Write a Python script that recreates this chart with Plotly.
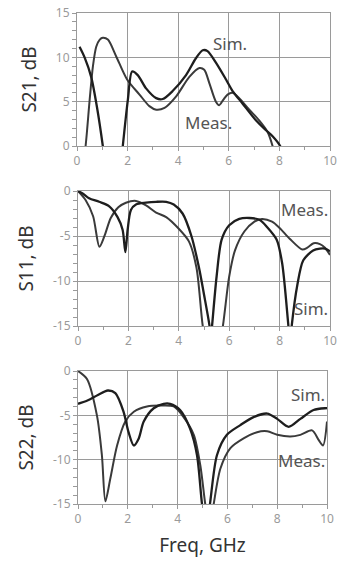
import plotly.graph_objects as go

# ---------------- data ----------------
freq_ticks = [0, 2, 4, 6, 8, 10]
freq_ticktext = ["0", "2", "4", "6", "8", "10"]
s21_ticks = [0, 5, 10, 15]
s21_ticktext = ["0", "5", "10", "15"]
sxx_ticks = [-15, -10, -5, 0]
sxx_ticktext = ["-15", "-10", "-5", "0"]

s21_sim_f = [0.1, 0.3, 0.56, 0.8, 1.02, 1.15, 1.45, 1.7, 1.81, 2.01, 2.18, 2.4, 2.73, 3.13, 3.39, 3.78,
             4.31, 4.7, 4.97, 5.16, 5.49, 5.89, 6.15, 6.54, 7.07, 7.46, 7.73, 8.03, 8.2]
s21_sim_db = [11.2, 10.0, 7.8, 4.2, 0.0, -3.0, -8.0, -3.0, 0.0, 5.2, 8.4, 8.0, 6.5, 5.4, 5.3, 6.2,
              8.0, 9.9, 10.8, 10.7, 9.4, 7.5, 6.2, 4.8, 2.9, 1.8, 1.1, 0.0, -1.5]

s21_meas_f = [0.15, 0.34, 0.5, 0.63, 0.76, 0.9, 1.02, 1.22, 1.55, 1.98, 2.47, 2.86, 3.13, 3.46, 3.92,
              4.44, 4.84, 5.03, 5.23, 5.49, 5.62, 5.78, 5.95, 6.15, 6.41, 6.81, 7.2, 7.53, 7.73, 7.9]
s21_meas_db = [-4.0, 0.0, 5.2, 9.0, 11.2, 12.0, 12.2, 12.0, 10.1, 7.5, 5.8, 4.5, 4.1, 4.3, 5.6,
               7.8, 8.8, 8.6, 7.1, 5.0, 4.6, 5.2, 5.8, 6.0, 5.4, 4.1, 2.9, 1.6, 0.0, -2.0]

s11_sim_f = [0.0, 0.2, 0.44, 0.84, 1.24, 1.57, 1.77, 1.88, 1.97, 2.1, 2.3, 2.7, 3.1, 3.5, 3.8, 4.15,
             4.5, 4.8, 5.0, 5.22, 5.27, 5.32, 5.5, 5.7, 6.0, 6.4, 6.8, 7.2, 7.5, 7.88, 8.1, 8.35,
             8.42, 8.48, 8.7, 8.94, 9.33, 9.6, 9.8, 10.0]
s11_sim_db = [0.0, -0.3, -0.8, -1.2, -1.7, -2.9, -4.3, -6.8, -4.3, -2.1, -1.5, -1.3, -1.2, -1.2, -1.5, -2.5,
              -5.0, -8.5, -11.5, -15.0, -16.5, -15.0, -9.5, -5.4, -3.8, -3.1, -3.0, -3.2, -4.0, -5.4, -8.0, -15.0,
              -17.0, -15.0, -10.5, -7.7, -6.6, -6.4, -6.4, -6.7]

s11_meas_f = [0.0, 0.3, 0.6, 0.85, 1.05, 1.3, 1.6, 1.9, 2.3, 2.7, 3.1, 3.5, 4.0, 4.4, 4.7, 4.95,
              5.35, 5.75, 6.0, 6.23, 6.6, 7.0, 7.3, 7.7, 8.0, 8.4, 8.9, 9.1, 9.35, 9.6, 9.8, 10.0]
s11_meas_db = [0.0, -1.0, -2.8, -6.2, -5.0, -3.0, -1.8, -1.3, -1.1, -1.6, -2.4, -2.9, -4.2, -5.6, -8.5, -15.0,
               -22.0, -15.0, -9.5, -6.6, -4.5, -3.4, -3.1, -3.4, -4.1, -5.3, -6.5, -6.3, -5.8, -5.9, -6.3, -7.1]

s22_sim_f = [0.0, 0.4, 0.8, 1.2, 1.5, 1.83, 2.03, 2.24, 2.44, 2.64, 3.04, 3.44, 3.7, 4.1, 4.5, 4.78,
             4.98, 5.14, 5.3, 5.58, 5.98, 6.52, 7.05, 7.6, 8.0, 8.46, 8.93, 9.46, 9.93, 10.0]
s22_sim_db = [-3.7, -3.3, -2.7, -2.2, -2.5, -4.6, -6.9, -8.4, -7.6, -5.7, -4.2, -3.7, -3.7, -4.4, -6.5, -9.5,
              -15.0, -18.0, -15.0, -9.5, -7.2, -6.1, -5.2, -4.8, -5.4, -6.3, -5.4, -4.4, -4.2, -4.2]

s22_meas_f = [0.0, 0.36, 0.76, 0.96, 1.1, 1.3, 1.57, 1.9, 2.24, 2.77, 3.3, 3.84, 4.24, 4.65, 4.91,
              5.11, 5.28, 5.45, 5.72, 6.12, 6.65, 7.19, 7.6, 8.0, 8.53, 8.93, 9.4, 9.67, 9.84, 10.0]
s22_meas_db = [0.0, -0.9, -5.0, -9.5, -14.7, -12.1, -8.4, -5.7, -4.6, -4.0, -3.9, -4.0, -5.2, -7.2, -10.6,
               -15.0, -18.0, -15.0, -11.0, -8.7, -7.6, -6.9, -6.8, -7.2, -7.4, -7.2, -6.7, -7.8, -8.4, -5.7]

# ---------------- styling ----------------
W, H = 339, 563
FONT = "Noto Sans"
SIM_COLOR = "#1e1e1e"
MEAS_COLOR = "#3a3a3a"
GRID = "#9a9a9a"
TICKFONT = dict(family=FONT, size=12, color="#9a9a9a")
TITLEFONT = dict(family=FONT, size=19, color="#333333")

# plot-area pixel boxes (left, right, top, bottom)
boxes = [(77, 330, 13, 146), (78, 330, 191, 326), (78, 327, 371, 504)]

fig = go.Figure()

panels = [
    (s21_sim_f, s21_sim_db, s21_meas_f, s21_meas_db, [0, 15], s21_ticks, s21_ticktext, "S21, dB"),
    (s11_sim_f, s11_sim_db, s11_meas_f, s11_meas_db, [-15, 0], sxx_ticks, sxx_ticktext, "S11, dB"),
    (s22_sim_f, s22_sim_db, s22_meas_f, s22_meas_db, [-15, 0], sxx_ticks, sxx_ticktext, "S22, dB"),
]

for i, (sf, sd, mf, md, yr, yt, ytt, ytitle) in enumerate(panels):
    n = "" if i == 0 else str(i + 1)
    xa, ya = "x" + n, "y" + n
    fig.add_trace(go.Scatter(x=mf, y=md, mode="lines", name="Meas.",
                             line=dict(color=MEAS_COLOR, width=2, shape="spline", smoothing=0.8),
                             xaxis=xa, yaxis=ya, showlegend=False))
    fig.add_trace(go.Scatter(x=sf, y=sd, mode="lines", name="Sim.",
                             line=dict(color=SIM_COLOR, width=2.3, shape="spline", smoothing=0.8),
                             xaxis=xa, yaxis=ya, showlegend=False))
    l, r, t, b = boxes[i]
    xdom = [l / W, r / W]
    ydom = [(H - b) / H, (H - t) / H]
    xkw = dict(domain=xdom, range=[0, 10], tickvals=freq_ticks, ticktext=freq_ticktext,
               tickfont=TICKFONT, showgrid=True, gridcolor=GRID, gridwidth=1,
               showline=True, linecolor=GRID, linewidth=1, mirror=True,
               ticks="outside", ticklen=4, tickcolor=GRID, automargin=False,
               minor=dict(dtick=1, tick0=0, ticks="outside", ticklen=3, tickcolor=GRID, showgrid=False),
               zeroline=False, anchor=ya, fixedrange=True)
    if i == 2:
        xkw["title"] = dict(text="Freq, GHz", font=TITLEFONT, standoff=12)
    ykw = dict(domain=ydom, range=yr, tickvals=yt, ticktext=ytt, tickfont=TICKFONT,
               showgrid=True, gridcolor=GRID, gridwidth=1,
               showline=True, linecolor=GRID, linewidth=1, mirror=True,
               ticks="outside", ticklen=4, tickcolor=GRID, automargin=False,
               minor=dict(dtick=1, tick0=0, ticks="outside", ticklen=4, tickcolor=GRID, showgrid=False),
               zeroline=False, anchor=xa, fixedrange=True,
               title=dict(text=ytitle, font=TITLEFONT, standoff=14))
    fig.layout["xaxis" + n] = xkw
    fig.layout["yaxis" + n] = ykw

# curve labels
labels = [
    ("Sim.", 5.3, 11.6, "x", "y"),
    ("Meas.", 4.2, 2.6, "x", "y"),
    ("Meas.", 10.0, -2.0, "x2", "y2"),
    ("Sim.", 10.0, -13.0, "x2", "y2"),
    ("Sim.", 10.0, -2.6, "x3", "y3"),
    ("Meas.", 10.0, -10.1, "x3", "y3"),
]
for text, x, y, xr, yr_ in labels:
    fig.add_annotation(text=text, x=x, y=y, xref=xr, yref=yr_, showarrow=False,
                       xanchor="right" if x >= 9.9 else "left", yanchor="middle",
                       font=dict(family=FONT, size=17, color="#555555"))

fig.update_layout(width=W, height=H, margin=dict(l=0, r=0, t=0, b=0),
                  paper_bgcolor="white", plot_bgcolor="white", showlegend=False,
                  hovermode=False)

fig.write_html("out.html", config={"displayModeBar": False, "staticPlot": True},
               post_script="document.body.style.margin='0';document.body.style.overflow='hidden';")
